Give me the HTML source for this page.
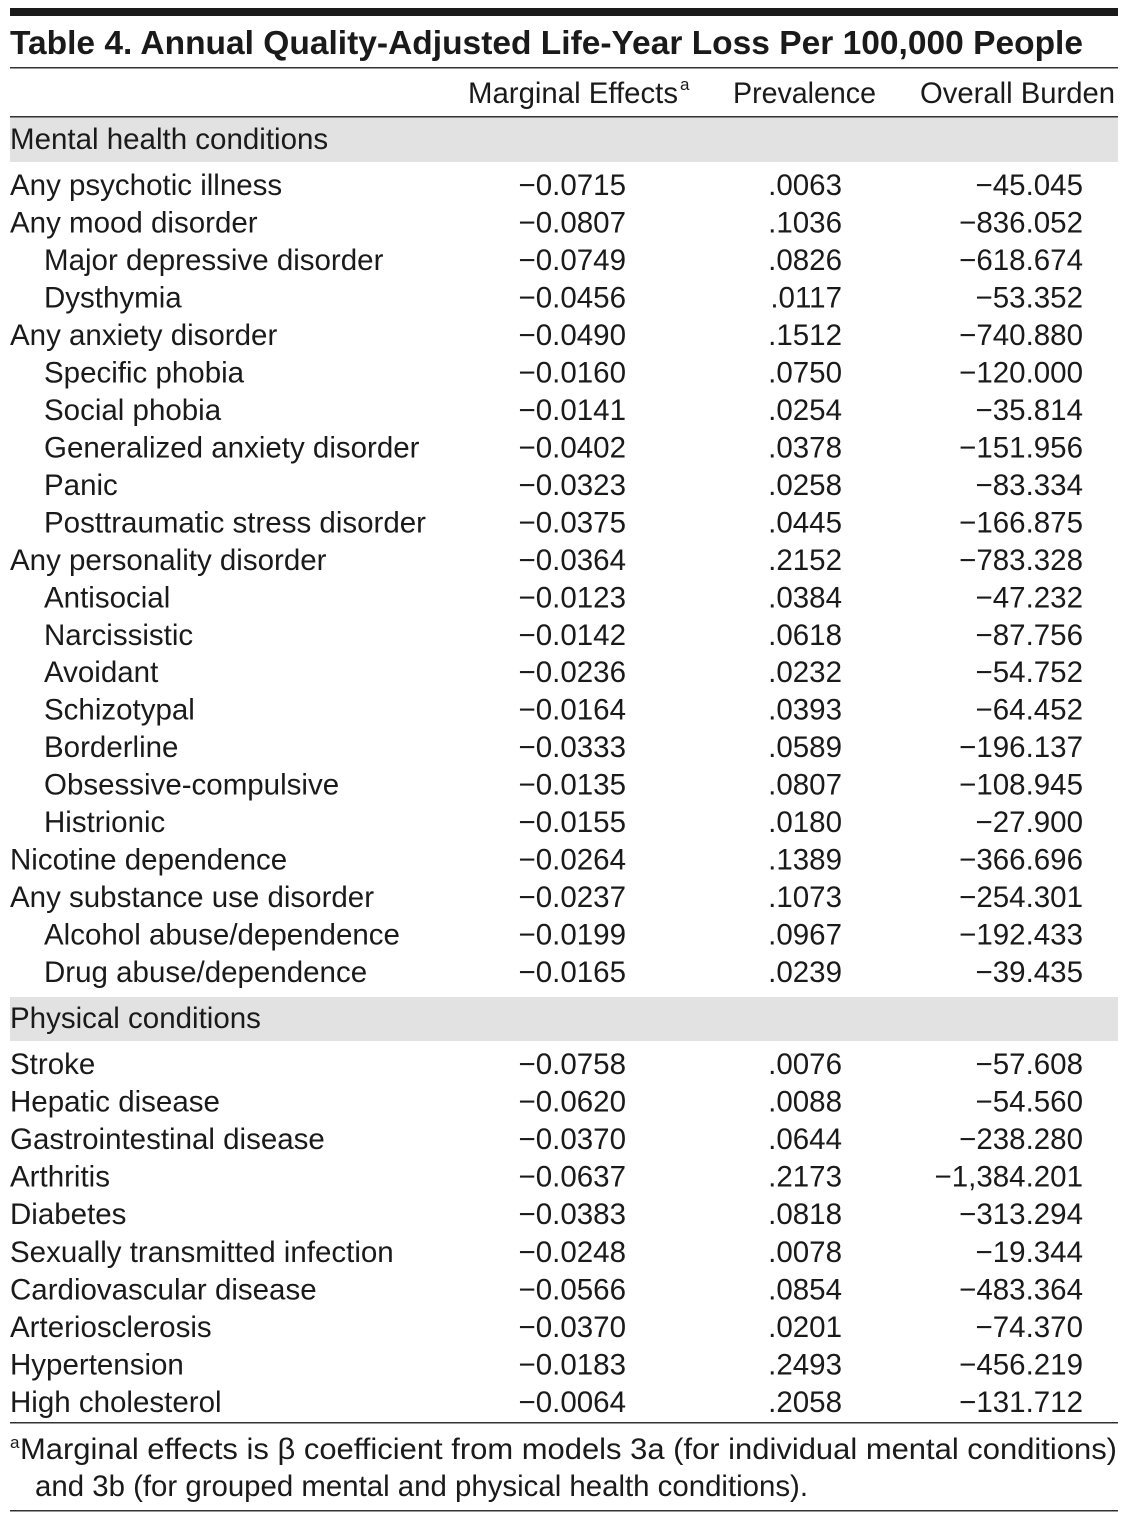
<!DOCTYPE html>
<html><head><meta charset="utf-8"><style>
html,body{margin:0;padding:0;background:#fff;}
svg{display:block;}
text{font-family:"Liberation Sans",sans-serif;font-size:29.5px;fill:#1a1a1a;}
.r{text-anchor:end;}
</style></head><body>
<svg width="1130" height="1524" viewBox="0 0 1130 1524" xmlns="http://www.w3.org/2000/svg">
<rect x="10" y="8" width="1108" height="8" fill="#1a1a1a"/>
<text x="10" y="54" style="font-weight:bold;font-size:33px" textLength="1073" lengthAdjust="spacingAndGlyphs">Table 4. Annual Quality-Adjusted Life-Year Loss Per 100,000 People</text>
<rect x="10" y="67" width="1108" height="1.5" fill="#333"/>
<text x="468" y="103" textLength="210" lengthAdjust="spacingAndGlyphs">Marginal Effects</text><text x="680" y="90" style="font-size:17px">a</text>
<text x="733" y="103" textLength="143" lengthAdjust="spacingAndGlyphs">Prevalence</text>
<text x="920" y="103" textLength="195" lengthAdjust="spacingAndGlyphs">Overall Burden</text>
<rect x="10" y="116" width="1108" height="1.5" fill="#333"/>
<rect x="10" y="117.5" width="1108" height="44.5" fill="#e2e2e2"/>
<text x="10" y="149">Mental health conditions</text>
<rect x="10" y="997" width="1108" height="44" fill="#e2e2e2"/>
<text x="10" y="1028">Physical conditions</text>
<g id="rows"></g>
<rect x="10" y="1422" width="1108" height="1.5" fill="#333"/>
<text x="10" y="1448" style="font-size:17px">a</text>
<text x="20" y="1459" textLength="1097" lengthAdjust="spacingAndGlyphs">Marginal effects is β coefficient from models 3a (for individual mental conditions)</text>
<text x="35" y="1496" textLength="773" lengthAdjust="spacingAndGlyphs">and 3b (for grouped mental and physical health conditions).</text>
<rect x="10" y="1510" width="1108" height="1.5" fill="#333"/>
</svg>
<script>
var m=[["Any psychotic illness","−0.0715",".0063","−45.045",0],
["Any mood disorder","−0.0807",".1036","−836.052",0],
["Major depressive disorder","−0.0749",".0826","−618.674",1],
["Dysthymia","−0.0456",".0117","−53.352",1],
["Any anxiety disorder","−0.0490",".1512","−740.880",0],
["Specific phobia","−0.0160",".0750","−120.000",1],
["Social phobia","−0.0141",".0254","−35.814",1],
["Generalized anxiety disorder","−0.0402",".0378","−151.956",1],
["Panic","−0.0323",".0258","−83.334",1],
["Posttraumatic stress disorder","−0.0375",".0445","−166.875",1],
["Any personality disorder","−0.0364",".2152","−783.328",0],
["Antisocial","−0.0123",".0384","−47.232",1],
["Narcissistic","−0.0142",".0618","−87.756",1],
["Avoidant","−0.0236",".0232","−54.752",1],
["Schizotypal","−0.0164",".0393","−64.452",1],
["Borderline","−0.0333",".0589","−196.137",1],
["Obsessive-compulsive","−0.0135",".0807","−108.945",1],
["Histrionic","−0.0155",".0180","−27.900",1],
["Nicotine dependence","−0.0264",".1389","−366.696",0],
["Any substance use disorder","−0.0237",".1073","−254.301",0],
["Alcohol abuse/dependence","−0.0199",".0967","−192.433",1],
["Drug abuse/dependence","−0.0165",".0239","−39.435",1]];
var p=[["Stroke","−0.0758",".0076","−57.608",0],
["Hepatic disease","−0.0620",".0088","−54.560",0],
["Gastrointestinal disease","−0.0370",".0644","−238.280",0],
["Arthritis","−0.0637",".2173","−1,384.201",0],
["Diabetes","−0.0383",".0818","−313.294",0],
["Sexually transmitted infection","−0.0248",".0078","−19.344",0],
["Cardiovascular disease","−0.0566",".0854","−483.364",0],
["Arteriosclerosis","−0.0370",".0201","−74.370",0],
["Hypertension","−0.0183",".2493","−456.219",0],
["High cholesterol","−0.0064",".2058","−131.712",0]];
var g=document.getElementById("rows"),ns="http://www.w3.org/2000/svg";
function t(x,y,s,c){var e=document.createElementNS(ns,"text");e.setAttribute("x",x);e.setAttribute("y",y);if(c)e.setAttribute("class",c);e.textContent=s;g.appendChild(e);}
function add(a,y0,st){a.forEach(function(r,i){var y=y0+i*st;t(r[4]?44:10,y,r[0]);t(626,y,r[1],"r");t(842,y,r[2],"r");t(1083,y,r[3],"r");});}
add(m,195,37.48);add(p,1074,37.55);
</script>
</body></html>
